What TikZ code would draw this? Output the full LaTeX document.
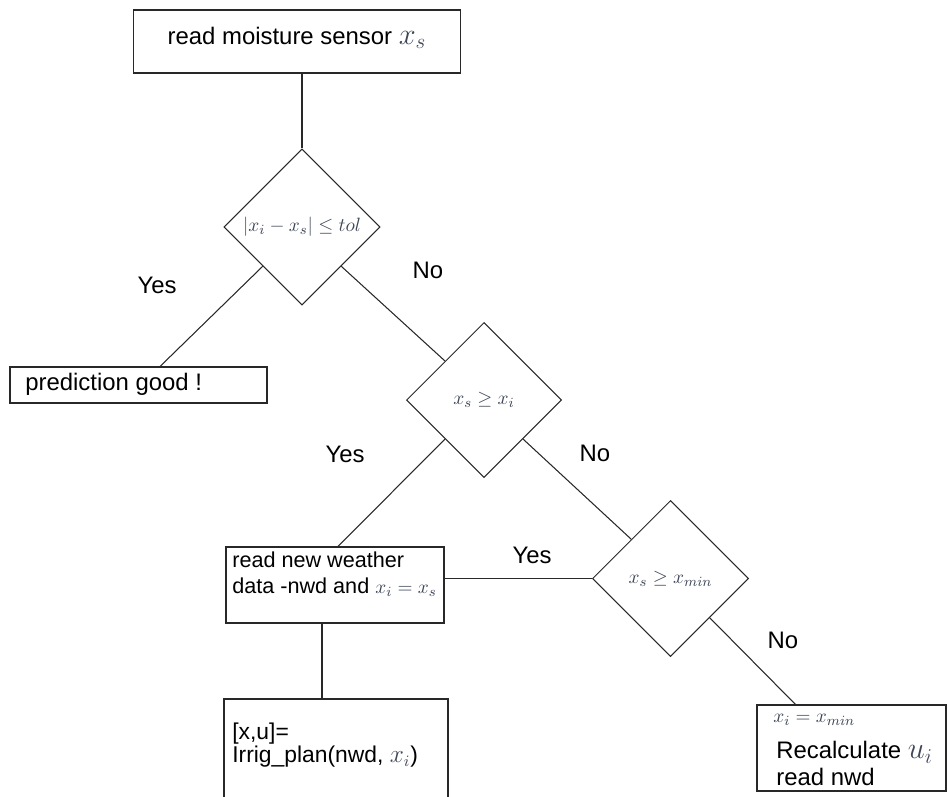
\documentclass[tikz,border=0pt]{standalone}
\usepackage{fontspec}
\setmainfont{Liberation Sans}
\usetikzlibrary{calc,shapes.geometric}
\definecolor{lineas}  {RGB}{40, 40, 40}
\definecolor{mathgris}{RGB}{62, 70, 88}
\newcommand{\mth}[1]{\textcolor{mathgris}{$#1$}}
\newcommand{\gmth}[1]{{\fontsize{16.5}{16.5}\selectfont\mth{#1}}}
\tikzset{
  caja/.style={draw, rectangle, lineas, line width=0.6pt, inner sep=0pt},
  rombo/.style={draw, diamond, aspect=1, lineas, line width=0.6pt, inner sep=0pt, minimum size=3.12cm},
  texto/.style={inner sep=0pt, font=\fontsize{13.6}{15.3}\selectfont},
  textob/.style={inner sep=0pt, font=\fontsize{12.3}{15.3}\selectfont},
  chico/.style={inner sep=0pt, font=\fontsize{11}{13}\selectfont, mathgris},
  flecha/.style={lineas, line width=0.6pt}
}

\begin{document}
\begin{tikzpicture}[x=0.02cm, y=-0.02cm]
\useasboundingbox (0,0) rectangle (948,796);
% cajas y rombos
\node[caja, minimum width=6.56cm, minimum height=1.26cm] (T) at (297,41.5) {};
\node[rombo] (D1) at (302,227) {};
\node[caja, minimum width=5.14cm, minimum height=0.72cm] (P) at (138.5,385) {};
\node[rombo, minimum size=3.1cm] (D2) at (484,400) {};
\node[rombo] (D3) at (670.5,578.5) {};
\node[caja, minimum width=4.36cm, minimum height=1.52cm] (W) at (335,585) {};
\node[caja, minimum width=4.48cm, minimum height=2.22cm] (I) at (336,754.5) {};
\node[caja, minimum width=3.78cm, minimum height=1.72cm] (R) at (851.5,748) {};
% textos
\node[texto] at (297,38) {read moisture sensor \gmth{x_s}};
\node[chico] at (D1.center) {$|x_i - x_s| \leq tol$};
\node[texto, anchor=west] at (25,384) {prediction good !};
\node[chico] at (D2.center) {$x_s \geq x_i$};
\node[chico] at (D3.center) {$x_s \geq x_{min}$};
\node[textob, anchor=north west, align=left] at (232,551) {read new weather\\data -nwd and {\fontsize{11}{13}\selectfont\mth{x_i = x_s}}};
\node[inner sep=0pt, font=\fontsize{13}{13}\selectfont, anchor=north west, align=left] at (232,723) {[x,u]=\\Irrig\_plan(nwd, {\fontsize{13.5}{13}\selectfont\mth{x_i}})};
\node[chico, anchor=west] at (773,720) {$x_i = x_{min}$};
\node[texto, anchor=north west, align=left] at (776,741) {Recalculate \gmth{u_i}\\read nwd};
% etiquetas
\node[texto] (y1) at (157,285) {Yes};
\node[texto] (n1) at (428,270) {No};
\node[texto] (y2) at (345,454) {Yes};
\node[texto] (n2) at (595,453) {No};
\node[texto] (y3) at (532,555) {Yes};
\node[texto] (n3) at (783,640) {No};
% conectores
\draw[flecha] (T.south -| D1.north) -- (D1.north);
\draw[flecha] ($(D1.west)!0.5!(D1.south)$) -- ($(P.north)+(21.5,0)$);
\draw[flecha] ($(D1.east)!0.5!(D1.south)$) -- ($(D2.west)!0.5!(D2.north)$);
\draw[flecha] ($(D2.west)!0.5!(D2.south)$) -- ($(W.north)+(3,0)$);
\draw[flecha] ($(D2.east)!0.5!(D2.south)$) -- ($(D3.west)!0.5!(D3.north)$);
\draw[flecha] (D3.west -| W.east) -- (D3.west);
\draw[flecha] ($(D3.east)!0.5!(D3.south)$) -- ($(R.north)+(-56,0)$);
\coordinate (Wb) at ($(W.south)+(-13,0)$);
\draw[flecha] (Wb) -- (Wb |- I.north);
\draw[flecha] ($(R.west)+(0,-5)$ -| I.east) -- ($(R.west)+(0,-5)$);
\end{tikzpicture}
\end{document}
